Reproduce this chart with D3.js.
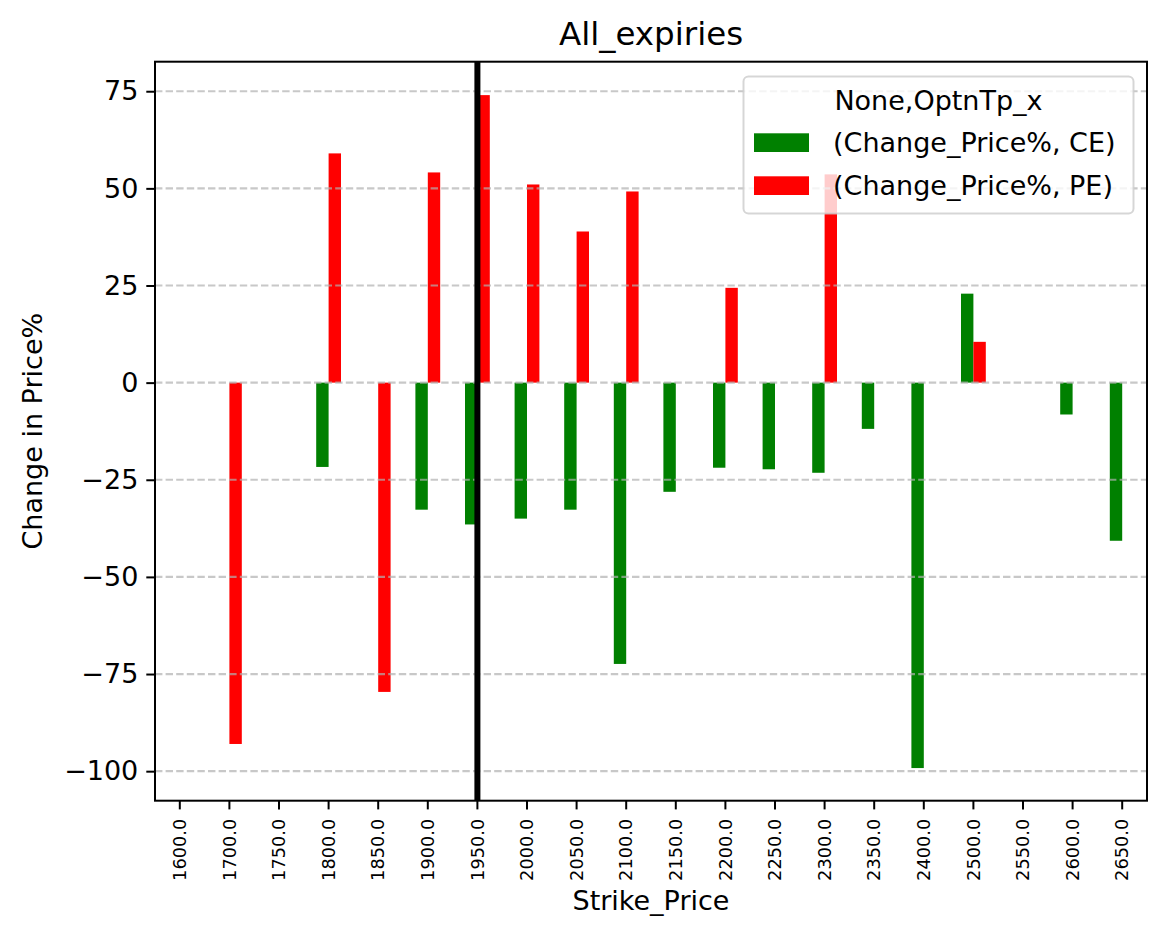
<!DOCTYPE html>
<html>
<head>
<meta charset="utf-8">
<script src="https://cdn.jsdelivr.net/npm/d3@7"></script>
<style>
  body { margin: 0; background: #fff; }
  svg { font-family: "DejaVu Sans", sans-serif; }
</style>
</head>
<body>
<svg id="chart" width="1166" height="939"></svg>
<script>
// strike prices on the x axis (categories)
const strikes = ["1600.0", "1700.0", "1750.0", "1800.0", "1850.0", "1900.0", "1950.0",
    "2000.0", "2050.0", "2100.0", "2150.0", "2200.0", "2250.0", "2300.0", "2350.0",
    "2400.0", "2500.0", "2550.0", "2600.0", "2650.0"];

// Change_Price% for calls and puts, null where there is no bar
const ceValues = [null, null, null, -21.7, null, -32.7, -36.5, -35.0, -32.7, -72.4,
    -28.1, -21.9, -22.3, -23.2, -11.9, -99.2, 22.9, null, -8.2, -40.7];
const peValues = [null, -93.0, null, 59.0, -79.6, 54.1, 74.0, 51.0, 38.9, 49.2,
    null, 24.4, null, 53.6, null, null, 10.5, null, null, null];

const yTicks = [-100, -75, -50, -25, 0, 25, 50, 75];
const spotStrike = "1950.0";

const seriesNames = ["(Change_Price%, CE)", "(Change_Price%, PE)"];
const seriesColors = ["green", "red"];

const plotLeft = 155, plotRight = 1147, plotTop = 61.7, plotBottom = 800.7;

const svg = d3.select("#chart");

const x = d3.scaleBand()
    .domain(strikes)
    .range([plotLeft, plotRight])
    .paddingInner(0)
    .paddingOuter(0);

const y = d3.scaleLinear()
    .domain([-107.6, 82.6])
    .range([plotBottom, plotTop]);

const bw = x.bandwidth() * 0.25;
const center = s => x(s) + x.bandwidth() / 2;

// bars, CE to the left of the tick and PE to the right
[ceValues, peValues].forEach((vals, k) => {
    const rows = strikes.map((s, i) => ({ s, v: vals[i] })).filter(d => d.v !== null);
    svg.append("g")
        .selectAll("rect")
        .data(rows)
        .enter()
        .append("rect")
        .attr("x", d => center(d.s) - bw + k * bw)
        .attr("width", bw)
        .attr("y", d => y(Math.max(0, d.v)))
        .attr("height", d => Math.abs(y(d.v) - y(0)))
        .attr("fill", seriesColors[k]);
});

// dashed grid, drawn over the bars
svg.append("g")
    .selectAll("line")
    .data(yTicks)
    .enter()
    .append("line")
    .attr("x1", plotLeft)
    .attr("x2", plotRight)
    .attr("y1", d => y(d))
    .attr("y2", d => y(d))
    .attr("stroke", "#b0b0b0")
    .attr("stroke-opacity", 0.7)
    .attr("stroke-width", 2.2)
    .attr("stroke-dasharray", "7.4 3.2");

// spot marker
svg.append("line")
    .attr("x1", center(spotStrike))
    .attr("x2", center(spotStrike))
    .attr("y1", plotTop)
    .attr("y2", plotBottom)
    .attr("stroke", "black")
    .attr("stroke-width", 6);

// axes
const yAxis = svg.append("g")
    .attr("transform", `translate(${plotLeft},0)`)
    .call(d3.axisLeft(y).tickValues(yTicks).tickSize(8.7).tickPadding(8));
yAxis.select(".domain").remove();
yAxis.selectAll("line").attr("stroke-width", 2);
yAxis.selectAll("text").attr("font-size", 27).attr("font-family", "DejaVu Sans").attr("fill", "black");

const xAxis = svg.append("g")
    .attr("transform", `translate(0,${plotBottom})`)
    .call(d3.axisBottom(x).tickSize(8.7).tickPadding(0));
xAxis.select(".domain").remove();
xAxis.selectAll("line").attr("stroke-width", 2);
xAxis.selectAll("text")
    .attr("font-size", 17.8)
    .attr("font-family", "DejaVu Sans")
    .attr("fill", "black")
    .attr("transform", "rotate(-90)")
    .attr("text-anchor", "end")
    .attr("dy", "0.35em")
    .attr("x", -18)
    .attr("y", 0);

// frame
svg.append("rect")
    .attr("x", plotLeft)
    .attr("y", plotTop)
    .attr("width", plotRight - plotLeft)
    .attr("height", plotBottom - plotTop)
    .attr("fill", "none")
    .attr("stroke", "black")
    .attr("stroke-width", 2);

// labels
svg.append("text")
    .attr("x", (plotLeft + plotRight) / 2)
    .attr("y", 45)
    .attr("text-anchor", "middle")
    .attr("font-size", 32.5)
    .text("All_expiries");

svg.append("text")
    .attr("x", (plotLeft + plotRight) / 2)
    .attr("y", 910)
    .attr("text-anchor", "middle")
    .attr("font-size", 27)
    .text("Strike_Price");

svg.append("text")
    .attr("transform", `translate(42,${(plotTop + plotBottom) / 2}) rotate(-90)`)
    .attr("text-anchor", "middle")
    .attr("font-size", 27)
    .text("Change in Price%");

// legend
const lg = svg.append("g");
lg.append("rect")
    .attr("x", 743.5)
    .attr("y", 76.5)
    .attr("width", 390)
    .attr("height", 137)
    .attr("rx", 5)
    .attr("fill", "white")
    .attr("fill-opacity", 0.8)
    .attr("stroke", "#cccccc")
    .attr("stroke-opacity", 0.8)
    .attr("stroke-width", 2);
lg.append("text")
    .attr("x", 938.5)
    .attr("y", 110)
    .attr("text-anchor", "middle")
    .attr("font-size", 27)
    .text("None,OptnTp_x");
seriesNames.forEach((name, k) => {
    lg.append("rect")
        .attr("x", 754)
        .attr("y", 133.3 + k * 43)
        .attr("width", 55)
        .attr("height", 18.7)
        .attr("fill", seriesColors[k]);
    lg.append("text")
        .attr("x", 833)
        .attr("y", 152 + k * 43)
        .attr("font-size", 27)
        .text(name);
});
</script>
</body>
</html>
